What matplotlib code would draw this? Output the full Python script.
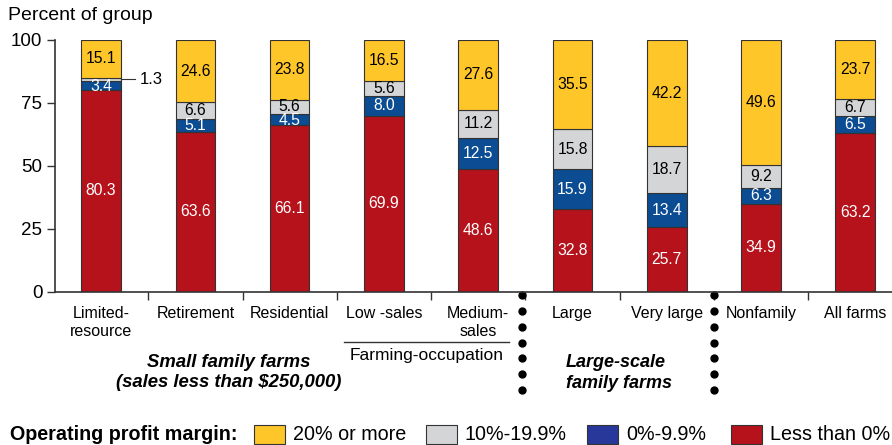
import matplotlib
matplotlib.use("Agg")
import matplotlib.pyplot as plt
from matplotlib.patches import Rectangle
import numpy as np

plt.rcParams['font.family'] = ['Liberation Sans', 'DejaVu Sans']

categories = ["Limited-\nresource", "Retirement", "Residential", "Low -sales", "Medium-\nsales",
              "Large", "Very large", "Nonfamily", "All farms"]
less_than_0 = [80.3, 63.6, 66.1, 69.9, 48.6, 32.8, 25.7, 34.9, 63.2]
pct_0_9 = [3.4, 5.1, 4.5, 8.0, 12.5, 15.9, 13.4, 6.3, 6.5]
pct_10_19 = [1.3, 6.6, 5.6, 5.6, 11.2, 15.8, 18.7, 9.2, 6.7]
pct_20_plus = [15.1, 24.6, 23.8, 16.5, 27.6, 35.5, 42.2, 49.6, 23.7]
yticks = [0, 25, 50, 75, 100]

series = [
    (less_than_0, "#B5121B", "white", "Less than 0%"),
    (pct_0_9, "#0B4C92", "white", "0%-9.9%"),
    (pct_10_19, "#D4D5D7", "black", "10%-19.9%"),
    (pct_20_plus, "#FFC629", "black", "20% or more"),
]

fig = plt.figure(figsize=(8.92, 4.45), dpi=100)
ax = fig.add_axes([55/892, 1-291.5/445, 1-55/892, (291.5-40)/445])

x = np.arange(len(categories))
bottom = np.zeros(len(categories))
width = 0.42
for k, (vals, col, tcol, name) in enumerate(series):
    vals = np.array(vals)
    ax.bar(x, vals, width, bottom=bottom, color=col, edgecolor="#333333", linewidth=0.8, zorder=2)
    for i, v in enumerate(vals):
        if v < 3:
            continue
        yc = bottom[i] + v/2
        if v < 5 and k == 1:
            yc -= 0.5
        ax.text(x[i], yc, f"{v:.1f}", ha="center", va="center",
                color=tcol, fontsize=11.3, zorder=3)
    bottom = bottom + vals

# small annotation for 1.3
b0 = less_than_0[0] + pct_0_9[0] + pct_10_19[0]/2
ax.plot([x[0] + width/2, x[0] + width/2 + 0.15], [b0, b0], color="#333333", lw=0.8, clip_on=False)
ax.text(x[0] + width/2 + 0.2, b0, f"{pct_10_19[0]:.1f}", ha="left", va="center", fontsize=12)

ax.set_xlim(-0.49, 8.39)
ax.set_ylim(0, 100)
ax.set_yticks(yticks)
ax.set_yticklabels([str(t) for t in yticks], fontsize=13.5)
ax.tick_params(axis="y", length=6, width=1, color="#333333", pad=3)
for s in ["top", "right"]:
    ax.spines[s].set_visible(False)
ax.spines["left"].set_color("#333333")
ax.spines["bottom"].set_color("#333333")
ax.spines["left"].set_linewidth(1.2)
ax.spines["bottom"].set_linewidth(1.2)

# x ticks at boundaries, labels at centers
ax.set_xticks(np.arange(len(categories) - 1) + 0.5)
ax.set_xticklabels([])
ax.tick_params(axis="x", length=6, width=1, color="#333333", direction="out")
for i, c in enumerate(categories):
    ax.text(x[i], -5.6, c, ha="center", va="top", fontsize=11.5, linespacing=1.25)

fig.text(8/892, 1-15/445, "Percent of group", ha="left", va="center", fontsize=14)

# Farming-occupation bracket
fx = lambda px: (px - 101) / 94.1
ax.plot([fx(343), fx(508)], [-20.2, -20.2], color="#333333", lw=1, clip_on=False)
ax.text((fx(343) + fx(508)) / 2, -22.3, "Farming-occupation", ha="center", va="top", fontsize=12.5)

ax.text(fx(228), -25.0, "Small family farms\n(sales less than $250,000)", ha="center", va="top",
        fontsize=13.3, fontweight="bold", style="italic", linespacing=1.2)
ax.text(fx(565), -25.0, "Large-scale\nfamily farms", ha="left", va="top",
        fontsize=13, fontweight="bold", style="italic", linespacing=1.25)

# dotted separators
for px in [521, 713]:
    ys = np.linspace(-1.4, -39.2, 7)
    ax.plot([fx(px)] * 7, ys, "o", color="black", markersize=5, clip_on=False)

# legend
fig.text(10/892, 1-435/445, "Operating profit margin:", fontsize=14.2, fontweight="bold",
         ha="left", va="center")
leg_items = [(254, "#FFC629", "20% or more"), (426, "#D4D5D7", "10%-19.9%"),
             (587, "#27389A", "0%-9.9%"), (731, "#B5121B", "Less than 0%")]
for px, col, lab in leg_items:
    fig.patches.append(Rectangle((px/892, 1/445), 31/892, 19/445, transform=fig.transFigure,
                                 facecolor=col, edgecolor="#333333", linewidth=0.8))
    fig.text((px + 39)/892, 1-435/445, lab, fontsize=14.2, ha="left", va="center")

fig.savefig("out.png", dpi=100)
